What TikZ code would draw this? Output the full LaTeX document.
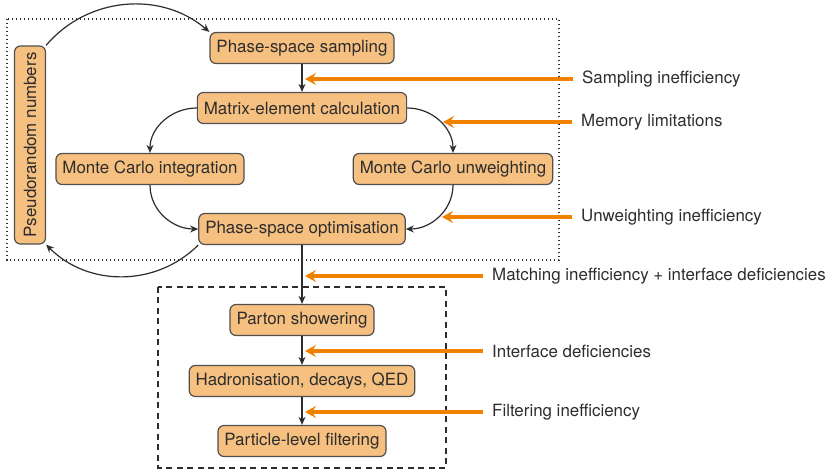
\documentclass[tikz,border=0pt]{standalone}
\usepackage{fontspec}
\setmainfont{TeX Gyre Heros}
\usetikzlibrary{arrows.meta}

\definecolor{boxfill}{RGB}{246,192,128}
\definecolor{boxline}{RGB}{80,80,80}
\definecolor{txtgray}{RGB}{45,45,45}
\definecolor{warn}{RGB}{240,130,0}

\tikzset{
  stage/.style={draw=boxline, fill=boxfill, line width=1.2pt, rounded corners=6pt,
    text=txtgray, minimum height=31pt, inner xsep=6.5pt, inner ysep=0pt,
    font=\fontsize{16.9}{19}\selectfont},
  issue/.style={anchor=west, inner xsep=9pt, text=txtgray,
    font=\fontsize{16.9}{19}\selectfont},
  flow/.style={draw=txtgray, line width=1.2pt, -{Stealth[length=8pt,width=7pt,inset=2.5pt]}},
  hit/.style={draw=warn, line width=3.2pt, -{Stealth[length=11pt,width=12pt,inset=4pt]}}
}

\begin{document}
\begin{tikzpicture}[x=1pt,y=1pt]
\useasboundingbox (0,0) rectangle (829,470);

% event generation part
\draw[line width=1.3pt, dash pattern=on 1.3pt off 2.7pt, txtgray] (7,451) rectangle (559,210);
\node[stage] (pss) at (302,422) {Phase-space sampling};
\node[stage] (me)  at (302,362) {Matrix-element calculation};
\node[stage] (mci) at (150,301) {Monte Carlo integration};
\node[stage] (mcu) at (453,301) {Monte Carlo unweighting};
\node[stage] (pso) at (302,241) {Phase-space optimisation};
\node[stage, rotate=90] (prn) at (30,325) {Pseudorandom numbers};

% simulation part
\draw[line width=1.2pt, dash pattern=on 6pt off 4.5pt, txtgray] (158,183) rectangle (446,2);
\node[stage] (ps)  at (302,150) {Parton showering};
\node[stage] (had) at (302,89)  {Hadronisation, decays, QED};
\node[stage] (plf) at (302,29)  {Particle-level filtering};

\draw[flow] (prn.south east) to[bend left=45] (pss.north west);
\draw[flow] (pss) -- (me);
\draw[flow] (me.west) to[out=180,in=90] (mci.north);
\draw[flow] (me.east) to[out=0,in=90] (mcu.north);
\draw[flow] (mci.south) to[out=270,in=180] (pso.west);
\draw[flow] (mcu.south) to[out=270,in=0] (pso.east);
\draw[flow] (pso.south west) to[bend left=45] (prn.south west);
\draw[flow] (pso) -- (ps);
\draw[flow] (ps) -- (had);
\draw[flow] (had) -- (plf);

% bottlenecks
\node[issue] (l1) at (573,391) {Sampling inefficiency};
\node[issue] (l2) at (572,348) {Memory limitations};
\node[issue] (l3) at (572,253) {Unweighting inefficiency};
\node[issue] (l4) at (483,194) {Matching inefficiency + interface deficiencies};
\node[issue] (l5) at (483,119) {Interface deficiencies};
\node[issue] (l6) at (483,58)  {Filtering inefficiency};

\coordinate (t1) at (305,391);
\coordinate (t2) at (443,348);
\coordinate (t3) at (442,253);
\coordinate (t4) at (305,194);
\coordinate (t5) at (305,119);
\coordinate (t6) at (305,58);

\foreach \i in {1,...,6}
  \draw[hit] (l\i.west) -- (t\i);
\end{tikzpicture}
\end{document}
